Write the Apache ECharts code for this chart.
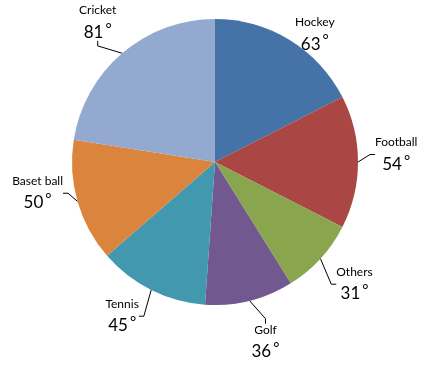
<!DOCTYPE html>
<html><head><meta charset="utf-8">
<script src="https://cdn.jsdelivr.net/npm/echarts@6/dist/echarts.min.js"></script>
<style>html,body{margin:0;padding:0;background:#fff}#c{width:433px;height:381px}</style>
</head><body><div id="c"></div>
<script>
const categories = ['Hockey','Football','Others','Golf','Tennis','Baset ball','Cricket'];
const values = [63, 54, 31, 36, 45, 50, 81];
const colors = ['#4572A7','#AA4643','#89A54E','#71588F','#4198AF','#DB843D','#93A9CF'];
// label nudges (styling), relative to ECharts' default outside label position
const labelNudge = [[-11,2],[-5,-10],[-3,15],[-11,27],[3,13],[7,-14],[12,-24]];
const showLeader = [false, true, true, true, true, true, true];

const chart = echarts.init(document.getElementById('c'), null, {renderer:'canvas'});
chart.setOption({
  animation: false,
  backgroundColor: '#fff',
  series: [{
    type: 'pie',
    center: [215, 162],
    radius: 143,
    startAngle: 90,
    clockwise: true,
    avoidLabelOverlap: false,
    data: categories.map((c, i) => ({
      name: c, value: values[i], itemStyle: {color: colors[i]},
      labelLine: {show: showLeader[i]}
    })),
    label: {
      show: true,
      position: 'outside',
      formatter: '{n|{b}}\n{v|{c}}{d|°}',
      rich: {
        n: {fontFamily: 'Lato, sans-serif', fontSize: 12, color: '#000', lineHeight: 22},
        v: {fontFamily: 'Lato, sans-serif', fontSize: 17, color: '#000', lineHeight: 22},
        d: {fontFamily: 'Lato, sans-serif', fontSize: 15, color: '#000', verticalAlign: 'top', lineHeight: 13, padding: [0,0,0,2]}
      }
    },
    labelLine: {show: true, length: 12, length2: 5, lineStyle: {color: '#000', width: 1}},
    labelLayout: function (p) {
      const r = p.labelRect;
      const nd = labelNudge[p.dataIndex];
      return {
        x: r.x + r.width / 2 + nd[0],
        y: r.y + r.height / 2 + nd[1],
        align: 'center',
        verticalAlign: 'middle'
      };
    }
  }]
});
</script></body></html>
